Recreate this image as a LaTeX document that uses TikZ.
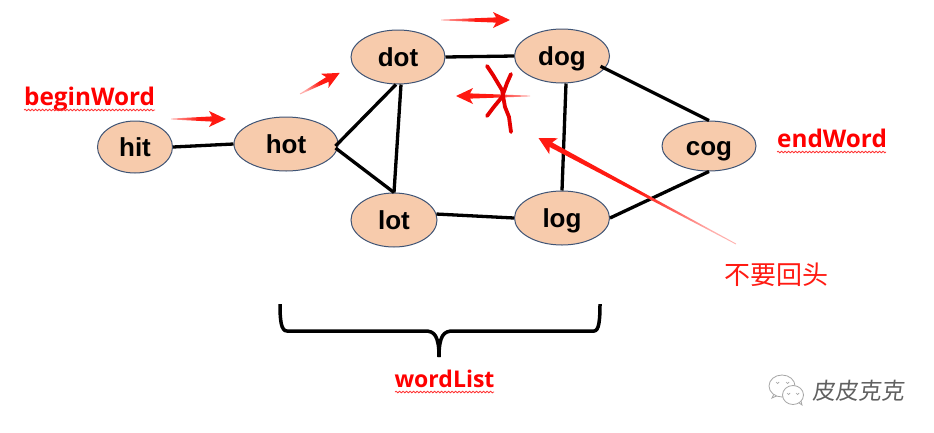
\documentclass[tikz,border=0pt]{standalone}
\usepackage{fontspec}
\setmainfont{Liberation Sans}
\newfontfamily\lblfont{Open Sans}
\newfontfamily\cjkfont{Noto Sans CJK SC}
\newfontfamily\wmfont[FakeSlant=0.12]{Noto Sans CJK SC}
\usetikzlibrary{shapes.geometric,decorations.pathmorphing}
\definecolor{nodefill}{HTML}{F7CBAC}
\definecolor{nodeline}{HTML}{3F5475}
\definecolor{redarrow}{HTML}{FF1A12}
\tikzset{
  word/.style={ellipse,draw=nodeline,line width=1pt,fill=nodefill,inner sep=0pt,text height=19pt,text depth=0pt,font=\fontsize{26}{26}\selectfont\bfseries},
  edge/.style={line width=3.3pt,black},
  lbl/.style={text=red,inner sep=0pt,font=\fontsize{24.3}{24}\lblfont\bfseries},
  squiggle/.style={draw=red!80!white,line width=.8pt,decorate,decoration={snake,amplitude=.8pt,segment length=3.5pt}},
  scribble/.style={draw=red!90!black,line width=3.8pt,line cap=round,line join=round},
  brace/.style={line width=3.5pt,black},
  bubble/.style={draw=gray!70,line width=.8pt,fill=white}
}
% tail x, tail y, angle, length, head half width
\newcommand{\taperarrow}[5]{%
  \begin{scope}[shift={(#1,#2)},rotate=#3]
    \pgfmathsetmacro{\shadeang}{90+#3}
    \path[left color=redarrow!35,right color=redarrow,middle color=redarrow,shading angle=\shadeang]
      (0,-.4) -- (#4-14,-2.6) -- (#4-17,-#5) -- (#4,0) -- (#4-17,#5) -- (#4-14,2.6) -- (0,.4) -- cycle;
  \end{scope}}
\begin{document}
\begin{tikzpicture}[x=1pt,y=-1pt]
\useasboundingbox (0,0) rectangle (934,432);
\fill[white] (0,0) rectangle (934,432);

\node[word,minimum width=75pt,minimum height=52pt] (hit) at (135,147) {hit};
\node[word,minimum width=104pt,minimum height=54pt] (hot) at (286,144) {hot};
\node[word,minimum width=94pt,minimum height=54pt] (dot) at (398,57) {dot};
\node[word,minimum width=95pt,minimum height=54pt] (dog) at (562,56) {dog};
\node[word,minimum width=86pt,minimum height=54pt] (lot) at (394,220) {lot};
\node[word,minimum width=95pt,minimum height=54pt] (logn) at (562,218) {log};
\node[word,minimum width=94pt,minimum height=50pt] (cog) at (709,146) {cog};

\draw[edge] (hit.east) -- (hot.west);
\draw[edge] ([xshift=-3pt,yshift=-2pt]hot.east) -- ([xshift=-2pt]dot.south);
\draw[edge] ([xshift=-3pt,yshift=-4pt]hot.east) -- (lot.north);
\draw[edge] ([xshift=3pt]dot.south) -- (lot.north);
\draw[edge] (dot.east) -- (dog.west);
\draw[edge] ([xshift=4pt]dog.south) -- (logn.north);
\draw[edge] ([xshift=-6pt]dog.-13) -- (cog.north);
\draw[edge] (cog.south) -- (logn.east);
\draw[edge] (lot.8) -- (logn.west);

\node[lbl,anchor=base west] (bw) at (24,105) {beginWord};
\path[squiggle] (bw.base west)++(0,5) -- ++(131,0);
\node[lbl,anchor=base west] (ew) at (777,147) {endWord};
\path[squiggle] (ew.base west)++(0,5) -- ++(109,0);
\node[lbl,anchor=base,font=\fontsize{23}{24}\lblfont\bfseries] (wl) at (444.5,387) {wordList};
\path[squiggle] (395,392) -- (494,392);

\taperarrow{171}{119}{0}{55}{8}
\taperarrow{300}{94}{28}{45}{8}
\taperarrow{441}{20}{0}{69}{8}
\taperarrow{530}{96}{180}{74}{8}
\taperarrow{736}{244}{151.8}{224}{9}

\draw[scribble] (487,66) -- (493,75) -- (502,90) -- (505,107) -- (509,117) -- (511,132);
\draw[scribble] (511,74) -- (507,83) -- (502,97) -- (493,108) -- (487,116);

\draw[brace] (280,304) .. controls (280,320) and (281,331) .. (287,331) -- (425,331) .. controls (434,331) and (439,335) .. (439,357);
\draw[brace] (600,304) .. controls (600,320) and (599,331) .. (594,331) -- (453,331) .. controls (444,331) and (439,335) .. (439,357);

\node[text=redarrow,inner sep=0pt,font=\fontsize{26}{26}\cjkfont] (turn) at (776,275) {不要回头};

\path[bubble] (772,398) -- (776,390) -- (781,394) -- cycle;
\path[bubble] (782,386) ellipse (13pt and 11pt);
\path[bubble] (802,405) -- (795,400) -- (800,397) -- cycle;
\path[bubble] (793,395) ellipse (10.5pt and 9.5pt);
\draw[gray!70,line width=.7pt] (776,382) arc (180:360:1.5pt) (786,382) arc (180:360:1.5pt);
\draw[gray!70,line width=.7pt] (787,393) arc (180:360:1.5pt) (796,393) arc (180:360:1.5pt);
\node[text=gray!75!black,inner sep=0pt,font=\fontsize{23}{23}\wmfont] (wm) at (858,391) {皮皮克克};
\end{tikzpicture}
\end{document}
